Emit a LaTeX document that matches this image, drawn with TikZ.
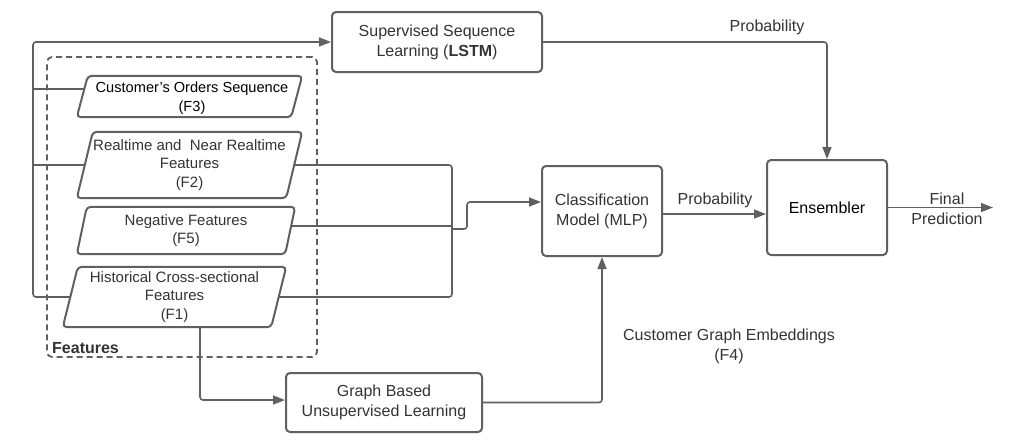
\documentclass[tikz,border=0pt]{standalone}
\usepackage{fontspec}
\setmainfont{Liberation Sans}
\usetikzlibrary{arrows.meta}
\definecolor{ln}{HTML}{606060}
\definecolor{tx}{HTML}{333333}
\begin{document}
\begin{tikzpicture}[x=1pt,y=-1pt,
  box/.style={draw=ln, line width=2pt, rounded corners=4pt, align=center, text=tx, font=\fontsize{16}{20}\selectfont, inner sep=0pt},
  ftext/.style={align=center, text=tx, font=\fontsize{15}{18.5}\selectfont, inner sep=0pt},
  para/.style={draw=ln, line width=2pt, rounded corners=4pt},
  conn/.style={draw=ln, line width=1.6pt, rounded corners=3pt},
  arr/.style={conn, -{Triangle[length=12pt,width=9pt]}},
  lbl/.style={align=center, text=tx, font=\fontsize{16}{20}\selectfont, inner sep=0pt},
]
\useasboundingbox (0,0) rectangle (1017,440);

% dashed features group
\node[draw=ln, line width=1.8pt, dash pattern=on 6pt off 4pt, rounded corners=5pt,
      minimum width=270pt, minimum height=300pt, inner sep=0pt] (fbox) at (182,207) {};
\node[anchor=south west, inner sep=0pt, text=tx, font=\bfseries\fontsize{16}{20}\selectfont] (flabel) at (52,354) {Features};

% parallelogram feature nodes
\node[ftext, minimum width=225pt, minimum height=41pt, text=black, font=\fontsize{14.6}{19}\selectfont] (p3) at (189.5,96.5) {};
\node[ftext, text=black, font=\fontsize{14.6}{19}\selectfont] (p3t) at (192,98) {Customer’s Orders Sequence\\(F3)};
\draw[para] ([xshift=11pt]p3.north west) -- (p3.north east) -- ([xshift=-11pt]p3.south east) -- (p3.south west) -- cycle;

\node[ftext, minimum width=225pt, minimum height=66pt] (p2) at (189.5,165) {Realtime and\ \ Near Realtime\\Features\\(F2)};
\draw[para] ([xshift=16pt]p2.north west) -- (p2.north east) -- ([xshift=-16pt]p2.south east) -- (p2.south west) -- cycle;

\node[ftext, minimum width=218pt, minimum height=47pt] (p5) at (186,230.5) {Negative Features\\(F5)};
\draw[para] ([xshift=10pt]p5.north west) -- (p5.north east) -- ([xshift=-10pt]p5.south east) -- (p5.south west) -- cycle;

\node[ftext, minimum width=223pt, minimum height=60pt] (p1) at (174.5,297) {Historical Cross-sectional\\Features\\(F1)};
\draw[para] ([xshift=15pt]p1.north west) -- (p1.north east) -- ([xshift=-15pt]p1.south east) -- (p1.south west) -- cycle;

% process boxes
\node[box, minimum width=210pt, minimum height=60pt] (lstm) at (437,42) {Supervised Sequence\\Learning (\textbf{LSTM})};
\node[box, minimum width=196pt, minimum height=59pt] (graph) at (384,402.5) {Graph Based\\Unsupervised Learning};
\node[box, minimum width=120pt, minimum height=90pt] (cls) at (602,211) {Classification\\Model (MLP)};
\node[box, minimum width=120pt, minimum height=95pt, text=black] (ens) at (827,207.5) {Ensembler};

% connector end points on slanted edges
\coordinate (p3L) at (84.5,89);
\coordinate (p2L) at (85,165);
\coordinate (p2R) at (294,165);
\coordinate (p5R) at (291,226);
\coordinate (p1L) at (70.5,297);
\coordinate (p1R) at (278.5,297);
\coordinate (p1B) at (200,327);
\coordinate (out) at (993,207.5);

% left bus into LSTM
\draw[arr] (p1L) -- (33,297) -- (33,42) -- (lstm.west);
\draw[conn] (33,89) -- (p3L);
\draw[conn] (33,165) -- (p2L);

% right bus into classifier
\draw[conn] (p2R) -- (452,165) -- (452,297) -- (p1R);
\draw[conn] (p5R) -- (452,226);
\draw[arr] (452,229) -- (467,229) -- (467,202) -- ([yshift=9pt]cls.west);

% graph branch
\draw[arr] (p1B) -- (200,400) -- (graph.west |- 0,400);
\draw[arr] (graph.east) -- (602,402.5) -- (cls.south);

% to ensembler
\draw[arr] (lstm.east) -- (827,42) -- (ens.north);
\draw[arr] ([yshift=-3pt]cls.east) -- ([yshift=-3pt]cls.east -| ens.west);
\draw[arr] (ens.east) -- (out);

% labels
\node[lbl] (lprob1) at (767,27) {Probability};
\node[lbl] (lprob2) at (715,200) {Probability};
\node[lbl] (lfinal) at (947,209) {Final\\Prediction};
\node[lbl] (lemb) at (729,346) {Customer Graph Embeddings\\(F4)};
\end{tikzpicture}
\end{document}
